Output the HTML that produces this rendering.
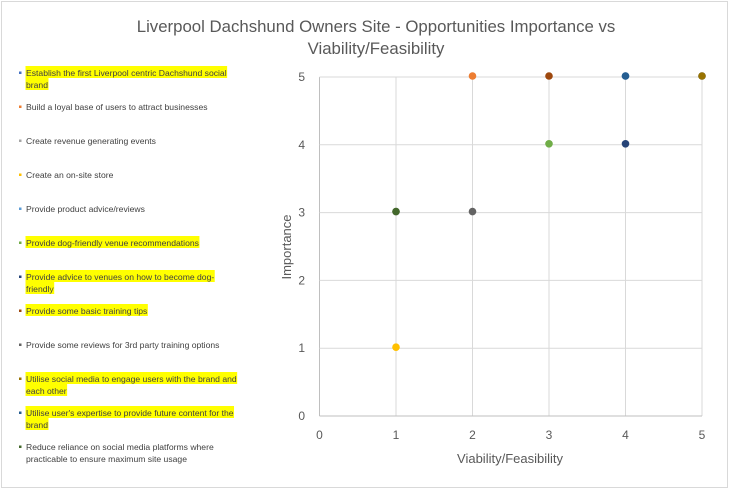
<!DOCTYPE html>
<html><head><meta charset="utf-8"><style>
body{margin:0;background:#fff;font-family:"Liberation Sans",Calibri,sans-serif;}
#chart{position:relative;width:729px;height:492px;}
svg text{font-family:"Liberation Sans",sans-serif;}
</style></head><body>
<div id="chart">
<svg id="svg" width="729" height="492">
<rect x="1.5" y="1.5" width="726" height="486" fill="#fff" stroke="#d9d9d9"/>
<text x="376" y="32" text-anchor="middle" font-size="16.8" fill="#595959">Liverpool Dachshund Owners Site - Opportunities Importance vs</text>
<text x="376" y="54" text-anchor="middle" font-size="16.8" fill="#595959">Viability/Feasibility</text>
<g id="grid"></g><g id="legend"></g><g id="marks"></g>
<text x="510" y="463" text-anchor="middle" font-size="13" fill="#595959">Viability/Feasibility</text>
<text transform="translate(291,247) rotate(-90)" text-anchor="middle" font-size="13" fill="#595959">Importance</text>
</svg>
</div>
<script>
const labels=[["Establish the first Liverpool centric Dachshund social","brand"],["Build a loyal base of users to attract businesses"],["Create revenue generating events"],["Create an on-site store"],["Provide product advice/reviews"],["Provide dog-friendly venue recommendations"],["Provide advice to venues on how to become dog-","friendly"],["Provide some basic training tips"],["Provide some reviews for 3rd party training options"],["Utilise social media to engage users with the brand and","each other"],["Utilise user's expertise to provide future content for the","brand"],["Reduce reliance on social media platforms where","practicable to ensure maximum site usage"]];
const highlighted=[1,0,0,0,0,1,1,1,0,1,1,0];
const colors=["#4472c4","#ed7d31","#a5a5a5","#ffc000","#5b9bd5","#70ad47","#264478","#9e480e","#636363","#997300","#255e91","#43682b"];
const viability=[5,2,1,1,4,3,4,3,2,5,4,1];
const importance=[5,5,3,1,5,4,4,5,3,5,5,3];
const xTicks=[0,1,2,3,4,5];
const yTicks=[0,1,2,3,4,5];
const NS="http://www.w3.org/2000/svg";
const X0=319.5,X1=702,Y0=416,Y1=77;
const sx=v=>X0+(X1-X0)*v/5, sy=v=>Y0-(Y0-Y1)*v/5;
function mk(t,a,p){const e=document.createElementNS(NS,t);for(const k in a)e.setAttribute(k,a[k]);p.appendChild(e);return e;}
const g=document.getElementById('grid');
xTicks.forEach(t=>{
 const l=mk('line',{x1:sx(t),x2:sx(t),y1:Y1,y2:Y0,stroke:t==0?'#bfbfbf':'#d9d9d9'},g);
 
 
 const tx=mk('text',{x:sx(t),y:439,'text-anchor':'middle','font-size':12,fill:'#595959'},g);tx.textContent=t;
 
 
});
yTicks.forEach(t=>{
 const l=mk('line',{x1:X0,x2:X1,y1:sy(t),y2:sy(t),stroke:t==0?'#bfbfbf':'#d9d9d9'},g);
 
 
 const tx=mk('text',{x:305,y:sy(t)+4,'text-anchor':'end','font-size':12,fill:'#595959'},g);tx.textContent=t;
 
 
});
const lg=document.getElementById('legend');
const ly=[74,108,142,176,210,244,278,312,346,380,414,448];
labels.forEach((ls,i)=>{
 const grp=mk('g',{},lg);
 
 
 mk('rect',{x:19,y:ly[i]-2.5,width:2.5,height:2.5,fill:colors[i]},grp);
 ls.forEach((s,j)=>{
  const y=ly[i]+j*12;
  const hr=highlighted[i]?mk('rect',{x:25.5,y:y-8,width:10,height:12,fill:'#ffff00'},grp):null;
  const t=mk('text',{x:26,y:y+2,'font-size':8.6,fill:'#404040'},grp);t.textContent=s;
  if(hr)hr.setAttribute('width',t.getComputedTextLength()+1);
 });
});
const m=document.getElementById('marks');
viability.forEach((v,i)=>{
 const c=mk('circle',{cx:sx(v),cy:sy(importance[i])-1,r:3.8,fill:colors[i]},m);
 
 
});
</script>
</body></html>
